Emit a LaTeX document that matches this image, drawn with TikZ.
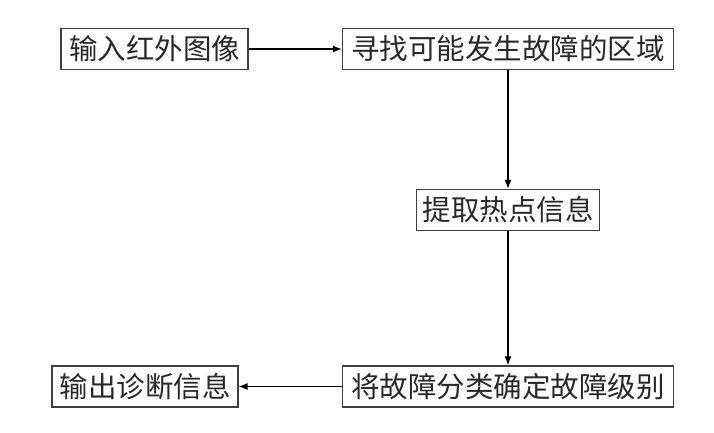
\documentclass[tikz,border=0pt]{standalone}
\usepackage{fontspec}
\usepackage{tikz}
\usepackage{xcolor}
\usetikzlibrary{arrows.meta}
\newfontfamily\cjk{Noto Sans CJK SC}
\definecolor{bordergray}{RGB}{64, 64, 64}
\definecolor{textgray}{RGB}{40, 40, 40}

\begin{document}
\begin{tikzpicture}[x = 1pt, y = 1pt, line width = 1.2pt, >={Latex[length = 9pt, width = 7pt]},
  stepbox/.style = {draw = bordergray, text = textgray, inner sep = 0pt,
    minimum height = 41pt, font = \cjk\fontsize{28.5}{28.5}\selectfont}]
\useasboundingbox (0,0) rectangle (714,433);
\node[stepbox, minimum width = 187pt] (input) at (154.5,384) {输入红外图像};
\node[stepbox, minimum width = 331pt] (search) at (508,384) {寻找可能发生故障的区域};
\node[stepbox, minimum width = 183pt] (hotspot) at (508,223) {提取热点信息};
\node[stepbox, minimum width = 331pt] (classify) at (508,46.5) {将故障分类确定故障级别};
\node[stepbox, minimum width = 186pt] (output) at (145,46.5) {输出诊断信息};
\draw[->] (input) -- (search);
\draw[->] (search) -- (hotspot);
\draw[->] (hotspot) -- (classify);
\draw[->] (classify) -- (output);
\end{tikzpicture}
\end{document}
